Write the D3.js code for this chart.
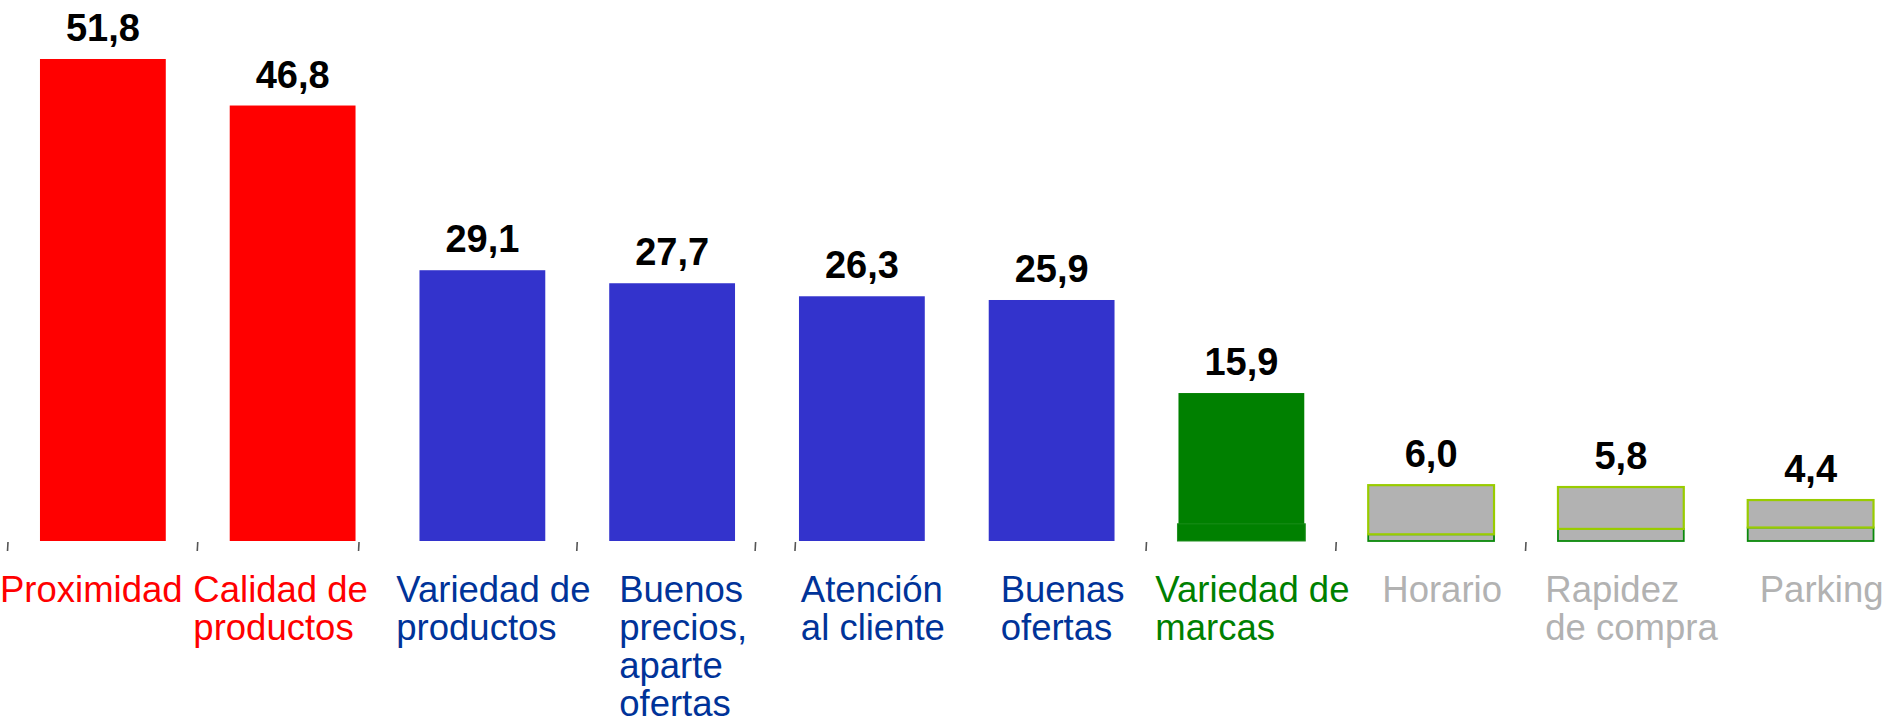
<!DOCTYPE html>
<html>
<head>
<meta charset="utf-8">
<script src="https://cdn.jsdelivr.net/npm/d3@7"></script>
<style>
  html, body { margin: 0; padding: 0; background: #ffffff; overflow: hidden; }
  svg { display: block; }
  text { font-family: "Liberation Sans", Arial, sans-serif; }
</style>
</head>
<body>
<script>
// ---- data ----
const categories = [
  "Proximidad",
  "Calidad de\nproductos",
  "Variedad de\nproductos",
  "Buenos\nprecios,\naparte\nofertas",
  "Atención\nal cliente",
  "Buenas\nofertas",
  "Variedad de\nmarcas",
  "Horario",
  "Rapidez\nde compra",
  "Parking"
];
const values = [51.8, 46.8, 29.1, 27.7, 26.3, 25.9, 15.9, 6.0, 5.8, 4.4];
const baseValues = [0, 0, 0, 0, 0, 0, 1.85, 0.72, 1.3, 1.45];
const groups = ["red", "red", "blue", "blue", "blue", "blue", "green", "gray", "gray", "gray"];
const valueLabels = ["51,8", "46,8", "29,1", "27,7", "26,3", "25,9", "15,9", "6,0", "5,8", "4,4"];
const tickSlots = [0, 1, 1.85, 3, 3.94, 4.15, 6, 7, 8];

// ---- styles ----
const W = 1895, H = 720;
const style = {
  red:   { fill: "#FF0000", text: "#FF0000", labelDx: -12 },
  blue:  { fill: "#3333CC", text: "#003399", labelDx: 11 },
  green: { fill: "#008000", text: "#008000", labelDx: 11, baseFill: "#008000", baseStroke: "#1f8f1f", topStroke: null },
  gray:  { fill: "#B2B2B2", text: "#B2B2B2", labelDx: 11, baseFill: "#B2B2B2", baseStroke: "#0A8A0A", topStroke: "#99CC00" }
};

const svg = d3.select("body").append("svg").attr("width", W).attr("height", H);
svg.append("rect").attr("width", W).attr("height", H).attr("fill", "#fff");

const x0 = 8, x1 = 1905.5;
const x = d3.scaleBand().domain(d3.range(categories.length)).range([x0, x1])
  .paddingInner(0.337).paddingOuter(0.1685);
const slot = d3.scaleLinear().domain([0, categories.length]).range([x0, x1]);
const y = d3.scaleLinear().domain([0, 58.14]).range([541, 0]);

// ticks
svg.append("g").selectAll("line").data(tickSlots).join("line")
  .attr("x1", d => slot(d)).attr("x2", d => slot(d) - 0.5)
  .attr("y1", 542).attr("y2", 551)
  .attr("stroke", "#555").attr("stroke-width", 1.6);

const bars = svg.append("g");
values.forEach((v, i) => {
  const g = groups[i], st = style[g];
  const bx = x(i), bw = x.bandwidth();
  const b = baseValues[i];
  if (b > 0) {
    bars.append("rect")
      .attr("x", g === "green" ? bx - 1 : bx)
      .attr("width", g === "green" ? bw + 2 : bw)
      .attr("y", y(b)).attr("height", y(0) - y(b))
      .attr("fill", st.baseFill)
      .attr("stroke", st.baseStroke).attr("stroke-width", g === "green" ? 1 : 1.8);
    const r = bars.append("rect")
      .attr("x", bx).attr("width", bw)
      .attr("y", y(v)).attr("height", y(b) - y(v))
      .attr("fill", st.fill);
    if (st.topStroke) r.attr("stroke", st.topStroke).attr("stroke-width", 2.2);
  } else {
    bars.append("rect")
      .attr("x", bx).attr("width", bw)
      .attr("y", y(v)).attr("height", y(0) - y(v))
      .attr("fill", st.fill);
  }
  svg.append("text")
    .attr("x", bx + bw / 2).attr("y", y(v) - 18)
    .attr("text-anchor", "middle")
    .attr("font-size", 38).attr("font-weight", "bold")
    .attr("fill", "#000")
    .text(valueLabels[i]);
});

// category labels (block centered under bar, lines left-aligned)
const lineH = 38;
categories.forEach((c, i) => {
  const lines = c.split("\n");
  const st = style[groups[i]];
  const t = svg.append("text")
    .attr("font-size", 36.5)
    .attr("fill", st.text)
    .attr("x", 0)
    .attr("y", 602);
  lines.forEach((ln, k) => {
    t.append("tspan").attr("x", 0).attr("dy", k === 0 ? 0 : lineH).text(ln);
  });
  const bw = t.node().getBBox().width;
  let left = x(i) + x.bandwidth() / 2 + st.labelDx - bw / 2;
  left = Math.max(0, Math.min(W - bw - 2, left));
  t.attr("x", left);
  t.selectAll("tspan").attr("x", left);
});
</script>
</body>
</html>
